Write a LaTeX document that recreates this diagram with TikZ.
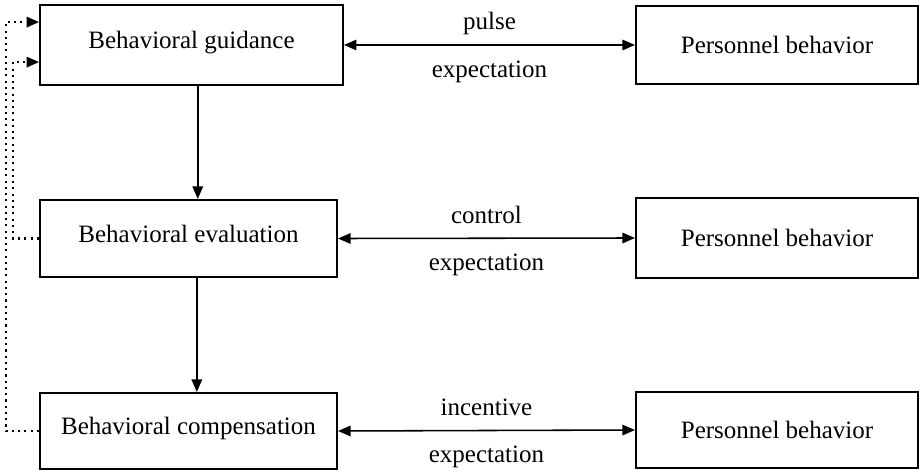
\documentclass[tikz,border=0pt]{standalone}
\usepackage{fontspec}
\setmainfont{Liberation Serif}
\usepackage{tikz}
\usetikzlibrary{arrows.meta}

\begin{document}
\begin{tikzpicture}[x=0.48pt,y=-0.48pt,>={Triangle[length=6pt,width=5pt]},
        box/.style={draw,line width=0.95pt,font=\fontsize{12}{14}\selectfont},
        stepbox/.style={box,text depth=4.5pt},
        link/.style={<->,line width=0.75pt},
        down/.style={->,line width=0.75pt},
        fback/.style={->,dotted,line width=1pt},
        lbl/.style={anchor=base,font=\fontsize{12}{14}\selectfont}]
        \useasboundingbox (0,0) rectangle (922,472);

        % the three steps on the left
        \node[stepbox,minimum width=145.4pt,minimum height=38.4pt] (guide) at (191.5,45) {Behavioral guidance};
        \node[stepbox,minimum width=142.6pt,minimum height=37pt] (eval) at (188.5,238.5) {Behavioral evaluation};
        \node[stepbox,minimum width=142.6pt,minimum height=36.5pt] (comp) at (188.5,431) {Behavioral compensation};

        % the personnel boxes on the right
        \node[box,minimum width=135.4pt,minimum height=37.4pt] (pb1) at (777,45) {Personnel behavior};
        \node[box,minimum width=135.4pt,minimum height=38.4pt] (pb2) at (777,238) {Personnel behavior};
        \node[box,minimum width=135.4pt,minimum height=36.5pt] (pb3) at (777,430) {Personnel behavior};

        % steps going down
        \draw[down] ([xshift=3pt]guide.south) -- ([xshift=3pt]guide.south |- eval.north);
        \draw[down] ([xshift=4pt]eval.south) -- ([xshift=4pt]eval.south |- comp.north);

        % links with the personnel behavior
        \draw[link] (guide.east) -- (pb1.west)
                node[midway,lbl,yshift=7.2pt] {pulse}
                node[midway,lbl,yshift=-15.4pt] {expectation};
        \draw[link] (eval.east) -- (pb2.west)
                node[midway,lbl,yshift=7.2pt] {control}
                node[midway,lbl,yshift=-15.4pt] {expectation};
        \draw[link] (comp.east) -- (pb3.west)
                node[midway,lbl,yshift=7.2pt] {incentive}
                node[midway,lbl,yshift=-15.4pt] {expectation};

        % feedback back to the guidance
        \draw[fback] (comp.west) -- ++(-33,0) |- ([yshift=11pt]guide.west);
        \draw[fback] (eval.west) -- ++(-26,0) |- ([yshift=-8.2pt]guide.west);
\end{tikzpicture}
\end{document}
